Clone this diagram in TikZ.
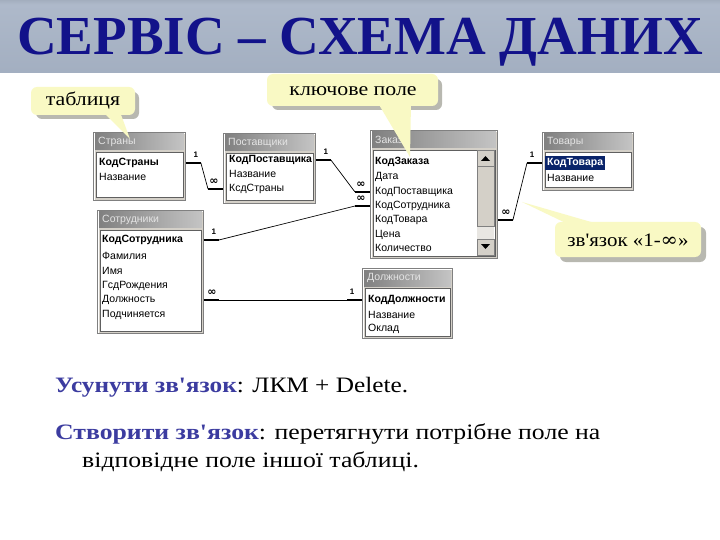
\documentclass[tikz,border=0pt]{standalone}
\usepackage{fontspec}
\setmainfont{Liberation Serif}[Ligatures=TeXOff]
\newfontfamily\winfont{Liberation Sans}
\newfontfamily\symfont{DejaVu Sans}
\newfontfamily\symserif{DejaVu Serif}
\definecolor{bantop}{HTML}{4A525C}
\definecolor{banmid}{HTML}{AEB9CA}
\definecolor{banmidb}{HTML}{A2AEC0}
\definecolor{banbot}{HTML}{5A606A}
\definecolor{titleblue}{HTML}{12128A}
\definecolor{callfill}{HTML}{F9F9C4}
\definecolor{callshadow}{HTML}{B8B8B0}
\definecolor{winbg}{HTML}{D4D0C8}
\definecolor{winedge}{HTML}{808080}
\definecolor{tbl}{HTML}{808080}
\definecolor{tbr}{HTML}{C4C4C4}
\definecolor{tbtext}{HTML}{E4E4E4}
\definecolor{listborder}{HTML}{606060}
\definecolor{selnavy}{HTML}{0A246A}
\definecolor{textblue}{HTML}{3C3CA0}
\definecolor{sbtrack}{HTML}{E8E6E2}
\pgfdeclareverticalshading{banner}{100bp}{color(0bp)=(banbot); color(22bp)=(banmidb); color(72bp)=(banmid); color(100bp)=(bantop)}
\newcommand\accwin[6]{%
  \node[winbox, minimum width=#4, minimum height=#5] (#1) at (#2,#3) {};
  \draw[white, line width=0.8] ([shift={(1,-1)}]#1.south west) -- ([shift={(1,1)}]#1.north west) -- ([shift={(-1,1)}]#1.north east);
  \shade[left color=tbl, right color=tbr] ([shift={(2,2)}]#1.north west) rectangle ([shift={(-2,18)}]#1.north east);
  \node[wtitle] (#1-t) at ([shift={(5,10)}]#1.north west) {#6};
  \filldraw[fill=white, draw=listborder, line width=0.8] ([shift={(3,20)}]#1.north west) rectangle ([shift={(-3,-3)}]#1.south east);
}
\begin{document}
\begin{tikzpicture}[x=1pt,y=-1pt,
  winbox/.style={draw=winedge, fill=winbg, anchor=north west, inner sep=0pt, line width=0.9},
  wtitle/.style={anchor=west, inner sep=0pt, text=tbtext, font=\winfont\fontsize{10.5}{12}\selectfont},
  field/.style={anchor=west, inner sep=0pt, font=\winfont\fontsize{10.5}{12}\selectfont},
  keyfield/.style={field, font=\winfont\bfseries\fontsize{10.5}{12}\selectfont},
  stub/.style={line width=2.6, black},
  rel/.style={line width=0.7, black},
  onelab/.style={inner sep=0pt, font=\winfont\bfseries\fontsize{8}{8}\selectfont},
  inflab/.style={inner sep=0pt, font=\symfont\bfseries\fontsize{11}{11}\selectfont},
  calltext/.style={inner sep=0pt, font=\fontsize{19}{19}\selectfont},
  body/.style={anchor=base west, inner sep=0pt, font=\fontsize{22}{22}\selectfont}]
\useasboundingbox (0,0) rectangle (720,540);
\fill[white] (0,0) rectangle (720,540);
% banner
\shade[shading=banner] (0,0) rectangle (720,73);
\node[inner sep=0pt, text=titleblue, font=\bfseries\fontsize{55}{55}\selectfont] (title) at (360,42) {\scalebox{1.0}[1.0]{СЕРВІС – СХЕМА ДАНИХ}};

% ---------- windows ----------
\accwin{strany}{93}{132}{92}{68}{Страны}
\node[keyfield] (s1) at (99,163) {КодСтраны};
\node[field] (s2) at (99,177) {Название};

\accwin{post}{223}{133}{92}{70}{Поставщики}
\node[keyfield] (p1) at (229,160) {КодПоставщика};
\node[field] (p2) at (229,174) {Название};
\node[field] (p3) at (229,189) {КсдСтраны};

\accwin{zak}{370}{130}{127}{128}{Заказы}
\fill[sbtrack] (477,150) rectangle (494,255);
\filldraw[fill=winbg, draw=winedge, line width=0.5] (477,150) rectangle (494,166);
\fill (481,161) -- (490,161) -- (485.5,156) -- cycle;
\filldraw[fill=winbg, draw=winedge, line width=0.5] (477,166) rectangle (494,226);
\filldraw[fill=winbg, draw=winedge, line width=0.5] (477,239) rectangle (494,255);
\fill (481,244) -- (490,244) -- (485.5,249) -- cycle;
\node[keyfield] (z1) at (375,162) {КодЗаказа};
\node[field] (z2) at (375,177) {Дата};
\node[field] (z3) at (375,192) {КодПоставщика};
\node[field] (z4) at (375,206) {КодСотрудника};
\node[field] (z5) at (375,220) {КодТовара};
\node[field] (z6) at (375,235) {Цена};
\node[field] (z7) at (375,248) {Количество};

\accwin{tov}{542}{132}{91}{58}{Товары}
\fill[selnavy] (545,156) rectangle (605,170);
\node[keyfield, text=white] (t1) at (547,163) {КодТовара};
\node[field] (t2) at (547,178) {Название};

\accwin{sotr}{97}{210}{106}{123}{Сотрудники}
\node[keyfield] (e1) at (102,240) {КодСотрудника};
\node[field] (e2) at (102,256) {Фамилия};
\node[field] (e3) at (102,271) {Имя};
\node[field] (e4) at (102,286) {ГсдРождения};
\node[field] (e5) at (102,300) {Должность};
\node[field] (e6) at (102,315) {Подчиняется};

\accwin{dolzh}{362}{268}{90}{70}{Должности}
\node[keyfield] (d1) at (368,300) {КодДолжности};
\node[field] (d2) at (368,315) {Название};
\node[field] (d3) at (368,329) {Оклад};

% ---------- relationships ----------
% Страны - Поставщики
\draw[stub] (strany.east |- s1) -- ++(15,0) coordinate (r1a);
\draw[stub] (post.west |- p3) -- ++(-15,0) coordinate (r1b);
\draw[rel] (r1a) -- (r1b);
\node[onelab] (r1l) at ([shift={(-5,-8)}]r1a) {1};
\node[inflab] (r1m) at ([shift={(6,-7)}]r1b) {∞};
% Поставщики - Заказы
\draw[stub] (post.east |- p1) -- ++(15,0) coordinate (r2a);
\draw[stub] (zak.west |- z3) -- ++(-15,0) coordinate (r2b);
\draw[rel] (r2a) -- (r2b);
\node[onelab] (r2l) at ([shift={(-5,-8)}]r2a) {1};
\node[inflab] (r2m) at ([shift={(6,-7)}]r2b) {∞};
% Сотрудники - Заказы
\draw[stub] (sotr.east |- e1) -- ++(15,0) coordinate (r3a);
\draw[stub] (zak.west |- z4) -- ++(-15,0) coordinate (r3b);
\draw[rel] (r3a) -- (r3b);
\node[onelab] (r3l) at ([shift={(-5,-8)}]r3a) {1};
\node[inflab] (r3m) at ([shift={(6,-7)}]r3b) {∞};
% Сотрудники - Должности
\draw[stub] (sotr.east |- e5) -- ++(15,0) coordinate (r4a);
\draw[stub] (dolzh.west |- d1) -- ++(-15,0) coordinate (r4b);
\draw[rel] (r4a) -- (r4b);
\node[inflab] (r4m) at ([shift={(-7,-7)}]r4a) {∞};
\node[onelab] (r4l) at ([shift={(5,-8)}]r4b) {1};
% Заказы - Товары
\draw[stub] (zak.east |- z5) -- ++(15,0) coordinate (r5a);
\draw[stub] (tov.west |- t1) -- ++(-15,0) coordinate (r5b);
\draw[rel] (r5a) -- (r5b);
\node[inflab] (r5m) at ([shift={(-7,-7)}]r5a) {∞};
\node[onelab] (r5l) at ([shift={(5,-8)}]r5b) {1};

% ---------- callouts ----------
% таблиця
\fill[callshadow] [rounded corners=6] (36,92) rectangle (139,119);
\fill[callfill] (103,112) -- (130,139) -- (120,112) -- cycle;
\fill[callfill] [rounded corners=6] (31,87) rectangle (135,115);
\node[calltext] (c1) at (83,101) {\scalebox{1.15}[1]{таблиця}};
% ключове поле
\fill[callshadow] [rounded corners=6] (272,79) rectangle (442,110);
\fill[callfill] (378,103) -- (410,157) -- (411,103) -- cycle;
\fill[callfill] [rounded corners=6] (267,74) rectangle (438,106);
\node[calltext] (c2) at (353,91) {\scalebox{1.15}[1]{ключове поле}};
% зв'язок
\fill[callshadow] [rounded corners=6] (560,227) rectangle (706,262);
\fill[callfill] (522,202) -- (572,226) -- (598,224) -- cycle;
\fill[callfill] [rounded corners=6] (555,222) rectangle (701,257);
\node[calltext] (c3) at (628,240) {\scalebox{1.1}[1]{зв'язок «1-{\symserif ∞}»}};

% ---------- body text ----------
\node[body] (b1) at (55,392) {\scalebox{1.15}[1]{{\bfseries\color{textblue}Усунути зв'язок}: ЛКМ + Delete.}};
\node[body] (b2) at (55,439) {\scalebox{1.17}[1]{{\bfseries\color{textblue}Створити зв'язок}: перетягнути потрібне поле на}};
\node[body] (b3) at (82,467) {\scalebox{1.17}[1]{відповідне поле іншої таблиці.}};
\end{tikzpicture}
\end{document}
